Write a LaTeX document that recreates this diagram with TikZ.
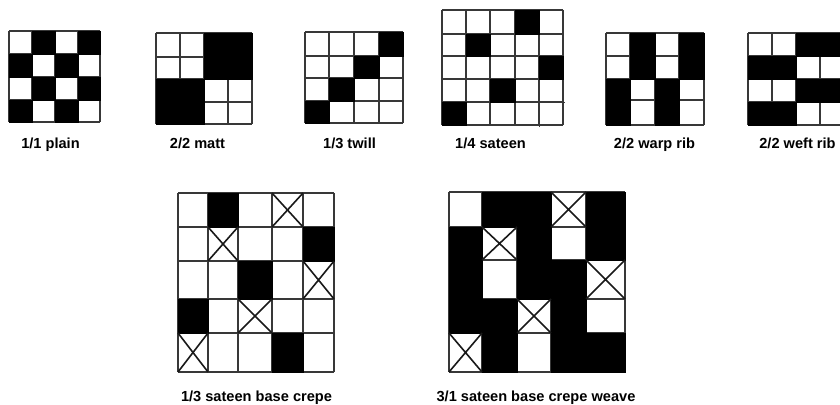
\documentclass[tikz,border=0pt]{standalone}
\usepackage{fontspec}
\setmainfont{Liberation Sans}
\tikzset{
  x=1pt,y=-1pt,
  gridline/.style={draw=black!78,line width=1.3pt},
  blackcell/.style={fill=black,draw=black,line width=0.6pt},
  crossline/.style={draw=black!90,line width=1.6pt},
  caption/.style={font=\bfseries\fontsize{14.6pt}{16pt}\selectfont,text=black,inner sep=0pt,anchor=center,text height=10.5pt,text depth=3pt}
}
\newcommand{\wv}[4]{%
  \def\xs{{#1}}\def\ys{{#2}}%
  \foreach \v in {#1}{\draw[gridline] (\v,\ys[0]) -- (\v,{\ys[dim(\ys)-1]});}
  \foreach \h in {#2}{\draw[gridline] ({\xs[0]},\h) -- ({\xs[dim(\xs)-1]},\h);}
  \foreach \c/\r in {#3}{%
    \pgfmathsetmacro{\xa}{\xs[\c]}\pgfmathsetmacro{\xb}{\xs[\c+1]}%
    \pgfmathsetmacro{\ya}{\ys[\r]}\pgfmathsetmacro{\yb}{\ys[\r+1]}%
    \path[blackcell] (\xa,\ya) rectangle (\xb,\yb);}
  \foreach \c/\r in {#4}{%
    \pgfmathsetmacro{\xa}{\xs[\c]}\pgfmathsetmacro{\xb}{\xs[\c+1]}%
    \pgfmathsetmacro{\ya}{\ys[\r]}\pgfmathsetmacro{\yb}{\ys[\r+1]}%
    \draw[crossline] (\xa,\ya) -- (\xb,\yb) (\xa,\yb) -- (\xb,\ya);}
}
\begin{document}
\begin{tikzpicture}
\clip (0,0) rectangle (840,404);
\fill[white] (0,0) rectangle (840,404);
\wv{9,32,55,78,100}{31,54,77,100,122}{1/0,3/0,0/1,2/1,1/2,3/2,0/3,2/3}{}
\wv{156,180,204,228,252}{33,57,79,102,124}{2/0,3/0,2/1,3/1,0/2,1/2,0/3,1/3}{}
\wv{305,329,354,379,403}{32,56,78,101,123}{3/0,2/1,1/2,0/3}{}
\wv{442,466,490,515,539,563}{10,34,56,79,102,125}{3/0,1/1,4/2,2/3,0/4}{}
\draw[gridline,line width=0.8pt] (563,102) -- (565,102) (539,125) -- (539,127);
\wv{606,630,655,679,704}{33,56,79,100,125}{1/0,3/0,1/1,3/1,0/2,2/2,0/3,2/3}{}
\wv{748,772,796,820,844}{33,56,79,102,125}{2/0,3/0,0/1,1/1,2/2,3/2,0/3,1/3}{}
\wv{178,208,238,272,303,334}{193,227,261,299,333,372}{1/0,4/1,2/2,0/3,3/4}{3/0,1/1,4/2,2/3,0/4}
\wv{449,482,517,551,586,625}{192,227,260,299,333,372}{1/0,2/0,4/0,0/1,2/1,4/1,0/2,2/2,3/2,0/3,1/3,3/3,1/4,3/4,4/4}{3/0,1/1,4/2,2/3,0/4}
\node[caption] (plain) at (50.5,144.5) {1/1 plain};
\node[caption] (matt) at (197.5,144.5) {2/2 matt};
\node[caption] (twill) at (349.5,144.5) {1/3 twill};
\node[caption] (sateen) at (490.5,144.5) {1/4 sateen};
\node[caption] (warp) at (654.5,144.5) {2/2 warp rib};
\node[caption] (weft) at (797.5,144.5) {2/2 weft rib};
\node[caption] (crepeA) at (256.5,397.5) {1/3 sateen base crepe};
\node[caption] (crepeB) at (536,397.5) {3/1 sateen base crepe weave};
\end{tikzpicture}
\end{document}
